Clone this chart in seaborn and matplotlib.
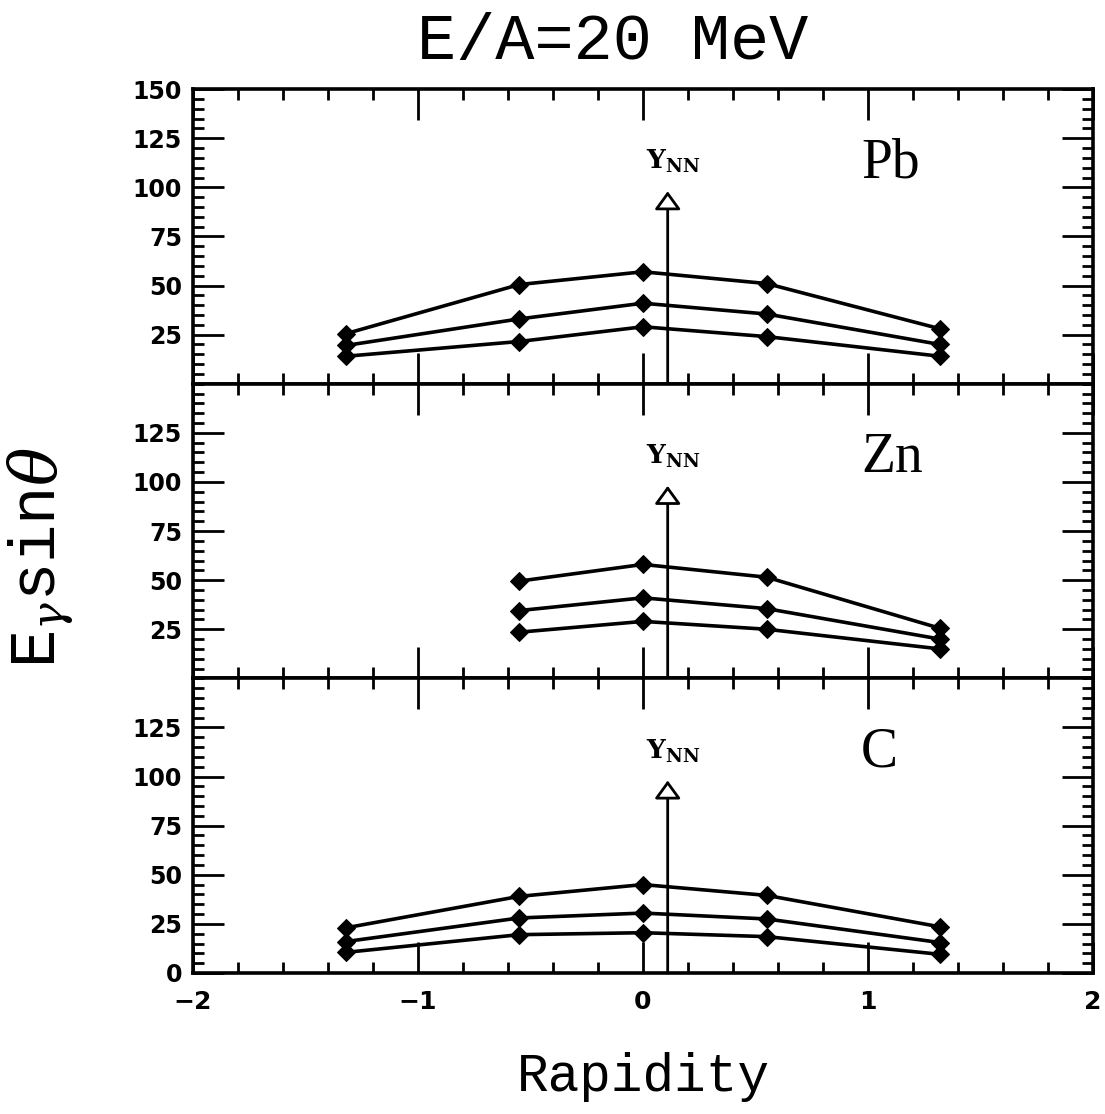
import numpy as np
import pandas as pd
import matplotlib
matplotlib.use("Agg")
import matplotlib.pyplot as plt
from matplotlib.ticker import MultipleLocator, FixedLocator, NullFormatter
import seaborn as sns

# ---------------- data ----------------
rapidity_5 = [-1.32, -0.55, 0.0, 0.55, 1.32]
rapidity_4 = [-0.55, 0.0, 0.55, 1.32]

pb_upper = [25.5, 50.5, 57.0, 51.0, 28.0]
pb_middle = [19.5, 33.0, 41.0, 35.5, 20.0]
pb_lower = [14.0, 21.5, 29.0, 24.0, 14.0]

zn_upper = [49.5, 58.0, 51.5, 25.5]
zn_middle = [34.5, 41.0, 35.5, 20.0]
zn_lower = [23.5, 29.0, 25.0, 15.0]

c_upper = [23.0, 39.0, 45.0, 39.5, 23.5]
c_middle = [16.0, 28.0, 30.5, 27.5, 15.5]
c_lower = [10.5, 19.5, 20.5, 18.5, 9.5]

panel_names = ["Pb", "Zn", "C"]
y_nn = 0.11
y_nn_arrow_top = 98
title_text = "E/A=20 MeV"
xlabel_text = "Rapidity"
ylabel_text = r"E$_\gamma$sin$\theta$"
x_tick_labels = ["\u22122", "\u22121", "0", "1", "2"]
y_tick_labels_top = ["25", "50", "75", "100", "125", "150"]
y_tick_labels_mid = ["25", "50", "75", "100", "125"]
y_tick_labels_bot = ["0", "25", "50", "75", "100", "125"]

rows = []
for panel, xs, series in [
    ("Pb", rapidity_5, [pb_upper, pb_middle, pb_lower]),
    ("Zn", rapidity_4, [zn_upper, zn_middle, zn_lower]),
    ("C", rapidity_5, [c_upper, c_middle, c_lower]),
]:
    for si, ys in enumerate(series):
        for xv, yv in zip(xs, ys):
            rows.append({"panel": panel, "series": si, "x": xv, "y": yv})
df = pd.DataFrame(rows)

# ---------------- style ----------------
sns.set_style("ticks")
plt.rcParams["font.family"] = ["DejaVu Sans"]
plt.rcParams["mathtext.fontset"] = "dejavuserif"
for key in ["text.color", "axes.labelcolor", "xtick.color", "ytick.color",
            "axes.edgecolor"]:
    plt.rcParams[key] = "black"

fig = plt.figure(figsize=(11.05, 11.14), dpi=100)
left, right = 0.1747, 0.989
top, bottom = 0.920, 0.1266
h = (top - bottom) / 3
axes = [fig.add_axes([left, top - (i + 1) * h, right - left, h]) for i in range(3)]

ytick_labelsets = [y_tick_labels_top, y_tick_labels_mid, y_tick_labels_bot]

for i, (ax, name) in enumerate(zip(axes, panel_names)):
    sub = df[df["panel"] == name]
    sns.lineplot(data=sub, x="x", y="y", units="series", estimator=None,
                 color="black", lw=2.6, marker="D", markersize=9.5,
                 markeredgecolor="black", markerfacecolor="black",
                 ax=ax, legend=False, sort=True)
    ax.set_xlim(-2, 2)
    ax.set_ylim(0, 150)
    ax.set_xlabel("")
    ax.set_ylabel("")

    # ticks
    ax.xaxis.set_major_locator(MultipleLocator(1))
    ax.xaxis.set_minor_locator(MultipleLocator(0.2))
    labels = ytick_labelsets[i]
    vals = [float(v) for v in labels]
    ax.yaxis.set_major_locator(FixedLocator(vals))
    ax.set_yticklabels(labels)
    ax.yaxis.set_minor_locator(MultipleLocator(5))
    ax.tick_params(which="major", direction="in", top=True, right=True,
                   length=22, width=2.0, labelsize=17, pad=8)
    ax.tick_params(which="minor", direction="in", top=True, right=True,
                   length=8, width=2.0)
    ax.tick_params(axis="x", which="major", pad=12)
    for lab in ax.get_yticklabels() + ax.get_xticklabels():
        lab.set_fontweight("heavy")
    if i < 2:
        ax.xaxis.set_major_formatter(NullFormatter())
    else:
        ax.set_xticks([-2, -1, 0, 1, 2])
        ax.set_xticklabels(x_tick_labels, fontweight="heavy", fontsize=18)
    for sp in ax.spines.values():
        sp.set_linewidth(2.6)
        sp.set_visible(True)

    # Y_NN arrow
    ax.annotate("", xy=(y_nn, y_nn_arrow_top), xytext=(y_nn, 0),
                arrowprops=dict(arrowstyle="-|>,head_length=0.55,head_width=0.4",
                                fc="white", ec="black", lw=2.0,
                                shrinkA=0, shrinkB=0, mutation_scale=20))
    ax.text(y_nn + 0.025, 113, r"$\mathbf{Y}_{\mathbf{NN}}$", ha="center",
            va="center", fontsize=19)
    ax.text(0.97, 112, name, ha="left", va="center", fontsize=40,
            family=["Liberation Serif", "DejaVu Serif"])

fig.text(0.554, 0.962, title_text, ha="center", va="center", fontsize=47,
         family=["Liberation Mono", "DejaVu Sans Mono"])
fig.text(0.582, 0.033, xlabel_text, ha="center", va="center", fontsize=38,
         family=["Liberation Mono", "DejaVu Sans Mono"])
fig.text(0.037, 0.5, ylabel_text, ha="center", va="center", fontsize=46,
         rotation=90, family=["Liberation Mono", "DejaVu Sans Mono"])

fig.savefig("out.png", dpi=100, facecolor="white")
